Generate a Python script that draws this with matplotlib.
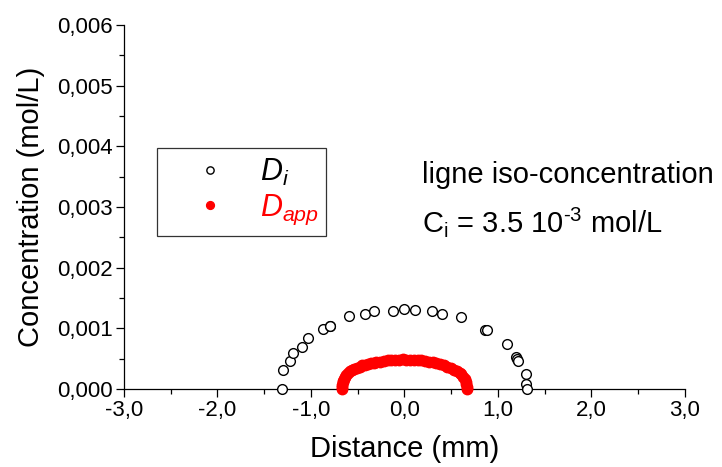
import matplotlib
matplotlib.use("Agg")
import matplotlib.pyplot as plt
from matplotlib.ticker import MultipleLocator, FuncFormatter

plt.rcParams['font.family'] = ['Liberation Sans', 'DejaVu Sans']
plt.rcParams['mathtext.fontset'] = 'custom'
plt.rcParams['mathtext.rm'] = 'Liberation Sans'
plt.rcParams['mathtext.it'] = 'Liberation Sans:italic'

# D_i series (open circles)
x_i = [-1.313, -1.303, -1.225, -1.196, -1.10, -1.029, -0.868, -0.80, -0.797, -0.590,
       -0.419, -0.323, -0.120, 0.0, 0.112, 0.294, 0.401, 0.604, 0.857, 0.879,
       1.093, 1.192, 1.205, 1.217, 1.299, 1.299, 1.306]
y_i = [0.0, 0.000313, 0.000466, 0.000588, 0.000697, 0.000835, 0.000984, 0.00104, 0.001043, 0.001198,
       0.001241, 0.00129, 0.00129, 0.00132, 0.0013, 0.00129, 0.00124, 0.00119, 0.00098, 0.00097,
       0.00075, 0.00052, 0.00049, 0.00046, 0.00025, 0.00008, 0.0]

# D_app series (filled red)
x_app = [-0.67, -0.67, -0.665, -0.66, -0.655, -0.645, -0.635, -0.62, -0.60, -0.58,
         -0.56, -0.54, -0.51, -0.48, -0.45, -0.42, -0.39, -0.36, -0.33, -0.30,
         -0.26, -0.22, -0.18, -0.14, -0.10, -0.06, -0.02, 0.02, 0.06, 0.10,
         0.14, 0.18, 0.22, 0.26, 0.30, 0.34, 0.38, 0.42, 0.46, 0.50,
         0.53, 0.56, 0.59, 0.61, 0.63, 0.645, 0.655, 0.66, 0.665, 0.67]
y_app = [0.0, 0.00003, 0.00007, 0.00011, 0.00014, 0.00017, 0.00020, 0.00023, 0.00026, 0.00029,
         0.00031, 0.00033, 0.00035, 0.00037, 0.00039, 0.00040, 0.00042, 0.00043, 0.00043, 0.00044,
         0.00045, 0.00046, 0.00047, 0.00047, 0.00048, 0.00048, 0.00049, 0.00048, 0.00048, 0.00048,
         0.00047, 0.00047, 0.00046, 0.00045, 0.00044, 0.00043, 0.00041, 0.00039, 0.00037, 0.00034,
         0.00032, 0.00030, 0.00027, 0.00024, 0.00020, 0.00016, 0.00012, 0.00008, 0.00004, 0.0]

fig = plt.figure(figsize=(7.22, 4.67), dpi=100)
ax = fig.add_axes([0.1717, 0.167, 0.777, 0.7795])

ax.plot(x_i, y_i, linestyle='none', marker='o', markersize=7, markerfacecolor='white',
        markeredgecolor='black', markeredgewidth=1.0, label=r'$D_i$', clip_on=False, zorder=3)
ax.plot(x_app, y_app, linestyle='none', marker='o', markersize=7.5, color='red',
        label=r'$D_{app}$', clip_on=False, zorder=3)

ax.set_xlim(-3, 3)
ax.set_ylim(0, 0.006)
ax.xaxis.set_major_locator(MultipleLocator(1))
ax.xaxis.set_minor_locator(MultipleLocator(0.5))
ax.yaxis.set_major_locator(MultipleLocator(0.001))
ax.yaxis.set_minor_locator(MultipleLocator(0.0005))
ax.xaxis.set_major_formatter(FuncFormatter(lambda v, p: f"{v:.1f}".replace('.', ',')))
ax.yaxis.set_major_formatter(FuncFormatter(lambda v, p: f"{v:.3f}".replace('.', ',')))

for s in ['top', 'right']:
    ax.spines[s].set_visible(False)
for s in ['left', 'bottom']:
    ax.spines[s].set_linewidth(0.9)
ax.tick_params(which='major', direction='out', length=6, width=0.9, labelsize=16, pad=2)
ax.tick_params(which='minor', direction='out', length=3.5, width=0.9)

ax.set_xlabel('Distance (mm)', fontsize=21, labelpad=10)
ax.set_ylabel('Concentration (mol/L)', fontsize=21, labelpad=9)

leg = ax.legend(loc='center', bbox_to_anchor=(0.058, 0.42, 0.303, 0.244), mode='expand',
                fontsize=22, frameon=True, fancybox=False, edgecolor='black',
                handlelength=2.9, handletextpad=0.2, borderpad=0.3, labelspacing=0.15,
                markerscale=0.75, borderaxespad=0)
leg.get_frame().set_linewidth(0.9)
leg.get_texts()[1].set_color('red')

ax.text(0.532, 0.566, 'ligne iso-concentration', transform=ax.transAxes, fontsize=21,
        ha='left', va='baseline')
ax.text(0.532, 0.431, 'C$_\\mathregular{i}$ = 3.5 10$^\\mathregular{\u20103}$ mol/L',
        transform=ax.transAxes, fontsize=21, ha='left', va='baseline')

fig.savefig('out.png', dpi=100)
